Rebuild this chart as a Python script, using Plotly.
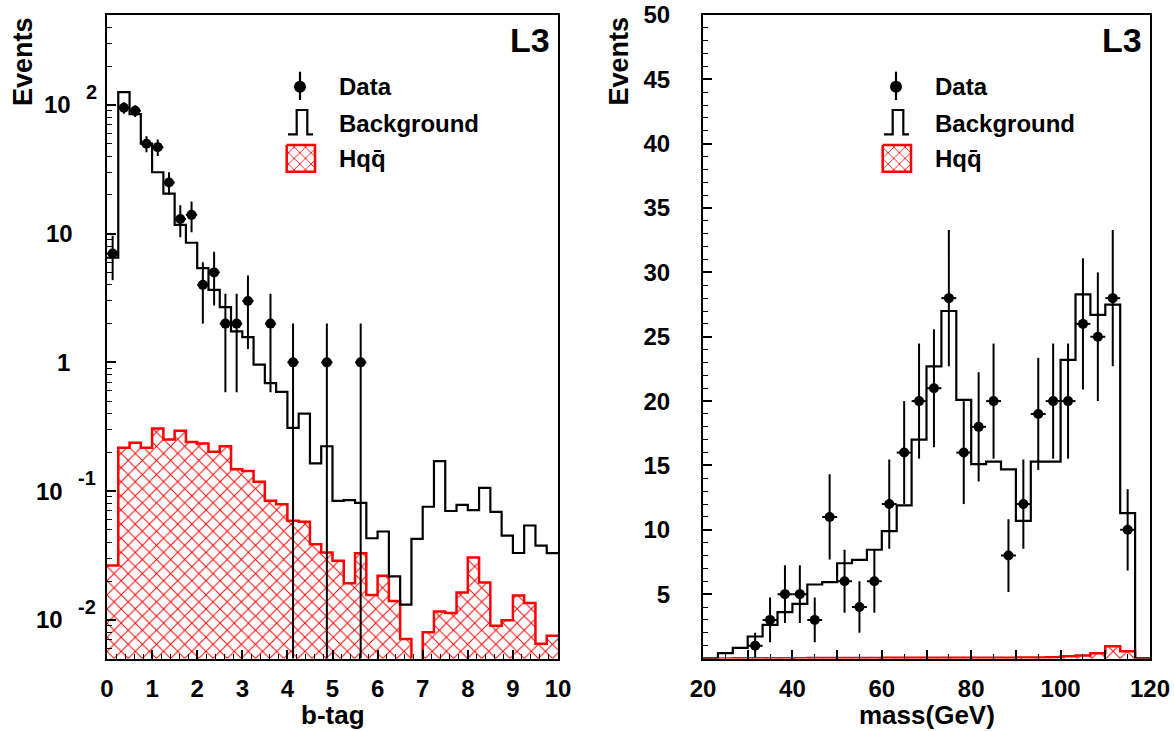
import numpy as np
import plotly.graph_objects as go

FONT = "Liberation Sans, Arial, Helvetica, sans-serif"
W, H = 1174, 731

# ---------------- b-tag distribution: 40 bins on [0, 10] ----------------
btag_range = (0.0, 10.0)
btag_data = [7, 95, 90, 50, 47, 25, 13, 14, 4, 5,
             2, 2, 3, 0, 2, 0, 1, 0, 0, 1,
             0, 0, 1, 0, 0, 0, 0, 0, 0, 0,
             0, 0, 0, 0, 0, 0, 0, 0, 0, 0]
btag_background = [6.5, 126, 85, 50, 30, 20.5, 11.7, 8.5, 5.4, 3.66,
                   2.69, 1.74, 1.57, 0.96, 0.69, 0.59, 0.31, 0.40, 0.164, 0.223,
                   0.084, 0.085, 0.081, 0.043, 0.0485, 0.0217, 0.0131, 0.0425, 0.0755, 0.171,
                   0.070, 0.078, 0.071, 0.106, 0.069, 0.045, 0.033, 0.054, 0.0377, 0.0329]
btag_hqq = [0.0264, 0.217, 0.237, 0.217, 0.306, 0.251, 0.294, 0.241, 0.234, 0.202,
            0.223, 0.148, 0.143, 0.118, 0.084, 0.0789, 0.0589, 0.0578, 0.0386, 0.0333,
            0.0288, 0.0192, 0.0329, 0.0156, 0.022, 0.0140, 0.00708, 0.0, 0.00798, 0.0116,
            0.0113, 0.0163, 0.0304, 0.0195, 0.00897, 0.0099, 0.0154, 0.0135, 0.00652, 0.0075]

# ---------------- mass distribution: 30 bins on [20, 120] GeV ----------------
mass_range = (20.0, 120.0)
mass_data = [0, 0, 0, 1, 3, 5, 5, 3, 11, 6,
             4, 6, 12, 16, 20, 21, 28, 16, 18, 20,
             8, 12, 19, 20, 20, 26, 25, 28, 10, 0]
mass_background = [0, 0.41, 0.83, 1.71, 2.62, 3.6, 4.25, 5.75, 5.93, 7.4,
                   7.67, 8.45, 9.9, 11.9, 17.0, 22.7, 27.0, 20.1, 15.1, 15.3,
                   14.7, 10.7, 15.3, 15.3, 23.2, 28.3, 26.7, 27.5, 11.3, 0]
mass_hqq = [0.0, 0.0, 0.01, 0.01, 0.02, 0.02, 0.02, 0.03, 0.03, 0.03,
            0.04, 0.04, 0.05, 0.05, 0.06, 0.06, 0.05, 0.05, 0.05, 0.05,
            0.06, 0.07, 0.08, 0.10, 0.18, 0.23, 0.41, 0.96, 0.57, 0.0]

# axis labelling
btag_xticks = list(range(0, 11))
log_tick_values = [0.01, 0.1, 1, 10, 100]
log_tick_base = ["10", "10", "1", "10", "10"]
log_tick_exp = ["-2", "-1", "", "", "2"]
mass_xtick_values = [20, 30, 40, 50, 60, 70, 80, 90, 100, 110, 120]
mass_xtick_text = ["20", "", "40", "", "60", "", "80", "", "100", "", "120"]
mass_ytick_values = [5, 10, 15, 20, 25, 30, 35, 40, 45, 50]

legend_labels = ["Data", "Background", "Hq\u0071\u0304"]

# plot frame positions in pixels
LEFT_X = (107, 558)
RIGHT_X = (703, 1150)
FRAME_Y = (15, 658.5)


def edges_of(rng, n):
    return np.linspace(rng[0], rng[1], n + 1)


def step_xy(edges, vals, floor=None):
    ys = [v if (floor is None or v > 0) else floor for v in vals]
    return list(edges), ys + [ys[-1]]


def px(x):
    return x / W


def py(y):
    return 1 - y / H


fig = go.Figure()

BLACK = "black"
RED = "#ff0000"


def add_panel(xa, ya, rng, data, bkg, hqq, floor):
    n = len(data)
    edges = edges_of(rng, n)
    centers = 0.5 * (edges[:-1] + edges[1:])
    width = edges[1] - edges[0]

    # hatched signal histogram
    fig.add_trace(go.Bar(
        x=centers, y=hqq, width=width, xaxis=xa, yaxis=ya,
        marker=dict(color="rgba(0,0,0,0)", line=dict(width=0),
                    pattern=dict(shape="x", fgcolor=RED, bgcolor="rgba(0,0,0,0)",
                                 size=10, solidity=0.18, fillmode="replace")),
        showlegend=False, hoverinfo="skip"))
    sx, sy = step_xy(edges, hqq, floor)
    fig.add_trace(go.Scatter(x=sx, y=sy, mode="lines", line=dict(color=RED, width=2.5, shape="hv"),
                             xaxis=xa, yaxis=ya, showlegend=False, hoverinfo="skip"))

    # background histogram outline
    bx, by = step_xy(edges, bkg, floor)
    fig.add_trace(go.Scatter(x=bx, y=by, mode="lines", line=dict(color=BLACK, width=2.2, shape="hv"),
                             xaxis=xa, yaxis=ya, showlegend=False, hoverinfo="skip"))

    # data points with statistical errors
    d = np.array(data, dtype=float)
    keep = d > 0
    fig.add_trace(go.Scatter(
        x=centers[keep], y=d[keep], mode="markers", xaxis=xa, yaxis=ya,
        marker=dict(color=BLACK, size=10, symbol="circle"),
        error_y=dict(type="data", array=np.sqrt(d[keep]), color=BLACK, thickness=2, width=0),
        error_x=dict(type="data", array=np.full(keep.sum(), width / 2), color=BLACK, thickness=2, width=0),
        showlegend=False, hoverinfo="skip"))


add_panel("x", "y", btag_range, btag_data, btag_background, btag_hqq, 1e-4)
add_panel("x2", "y2", mass_range, mass_data, mass_background, mass_hqq, None)


# legend glyphs drawn on a full-page overlay axis measured in pixels
def add_legend(x0):
    mx = x0 + 193
    fig.add_trace(go.Scatter(x=[mx, mx], y=[71.7, 100], mode="lines", line=dict(color=BLACK, width=2.2),
                             xaxis="x3", yaxis="y3", showlegend=False, hoverinfo="skip"))
    fig.add_trace(go.Scatter(x=[mx], y=[86.7], mode="markers", marker=dict(color=BLACK, size=12),
                             xaxis="x3", yaxis="y3", showlegend=False, hoverinfo="skip"))
    pxs = [x0 + 181, x0 + 189.7, x0 + 189.7, x0 + 200.3, x0 + 200.3, x0 + 206]
    pys = [134.3, 134.3, 110, 110, 134.3, 134.3]
    fig.add_trace(go.Scatter(x=pxs, y=pys, mode="lines", line=dict(color=BLACK, width=2.2),
                             xaxis="x3", yaxis="y3", showlegend=False, hoverinfo="skip"))
    bx0, bx1, by0, by1 = x0 + 179.7, x0 + 208, 145, 171.7
    fig.add_trace(go.Scatter(x=[bx0, bx1, bx1, bx0, bx0], y=[by0, by0, by1, by1, by0], mode="lines",
                             fill="toself", fillcolor="rgba(0,0,0,0)",
                             fillpattern=dict(shape="x", fgcolor=RED, bgcolor="white", size=8,
                                              solidity=0.2, fillmode="replace"),
                             line=dict(color=RED, width=2.5),
                             xaxis="x3", yaxis="y3", showlegend=False, hoverinfo="skip"))
    for label, ty in zip(legend_labels, [86.7, 123, 158.5]):
        fig.add_annotation(x=px(x0 + 230), y=py(ty), xref="paper", yref="paper", text="<b>%s</b>" % label,
                           xanchor="left", yanchor="middle", showarrow=False,
                           font=dict(family=FONT, size=24, color=BLACK))


add_legend(LEFT_X[0])
add_legend(RIGHT_X[0])

axis_common = dict(showline=True, mirror=True, linecolor=BLACK, linewidth=2, showgrid=False,
                   zeroline=False, ticks="inside", tickcolor=BLACK, tickwidth=1.5, ticklen=9,
                   automargin=False,
                   tickfont=dict(family=FONT, size=24, color=BLACK, weight="bold"))

ydom = [py(FRAME_Y[1]), py(FRAME_Y[0])]

fig.update_layout(
    width=W, height=H, margin=dict(l=0, r=0, t=0, b=0, pad=0, autoexpand=False),
    paper_bgcolor="white", plot_bgcolor="rgba(0,0,0,0)",
    showlegend=False, barmode="overlay", bargap=0,
    xaxis=dict(domain=[px(LEFT_X[0]), px(LEFT_X[1])], range=list(btag_range), anchor="y",
               tickvals=btag_xticks, ticklabelstandoff=8,
               minor=dict(ticks="inside", dtick=0.2, ticklen=5, tickcolor=BLACK, tickwidth=1),
               **axis_common),
    yaxis=dict(domain=ydom, type="log", range=[np.log10(0.005), np.log10(500)], anchor="x",
               dtick=1, showticklabels=False,
               minor=dict(ticks="inside", dtick="D1", ticklen=5, tickcolor=BLACK, tickwidth=1),
               **axis_common),
    xaxis2=dict(domain=[px(RIGHT_X[0]), px(RIGHT_X[1])], range=list(mass_range), anchor="y2",
                tickvals=mass_xtick_values, ticktext=mass_xtick_text, ticklabelstandoff=8,
                minor=dict(ticks="inside", dtick=5, ticklen=5, tickcolor=BLACK, tickwidth=1),
                **axis_common),
    yaxis2=dict(domain=ydom, range=[0, 50], anchor="x2",
                tickvals=mass_ytick_values, ticklabelstandoff=26,
                minor=dict(ticks="inside", dtick=1, ticklen=5, tickcolor=BLACK, tickwidth=1),
                **axis_common),
    xaxis3=dict(domain=[0, 1], range=[0, W], visible=False, anchor="y3", fixedrange=True, automargin=False),
    yaxis3=dict(domain=[0, 1], range=[H, 0], visible=False, anchor="x3", fixedrange=True, automargin=False),
)

# log-axis tick labels with raised exponents
for v, base, exp in zip(log_tick_values, log_tick_base, log_tick_exp):
    lv = np.log10(v)
    right_edge = 65 if exp.startswith("-") else (73.3 if exp else (72 if base == "1" else 75))
    fig.add_annotation(x=px(right_edge), y=lv, xref="paper", yref="y", text="<b>%s</b>" % base,
                       xanchor="right", yanchor="middle", showarrow=False,
                       font=dict(family=FONT, size=24, color=BLACK))
    if exp:
        fig.add_annotation(x=px(right_edge + 11), y=lv, xref="paper", yref="y", text="<b>%s</b>" % exp,
                           xanchor="left", yanchor="middle", yshift=13, showarrow=False,
                           font=dict(family=FONT, size=20, color=BLACK))

# axis titles and experiment tags
for x, y, text, angle, size in [(333, 715, "b-tag", 0, 26), (926.5, 715, "mass(GeV)", 0, 26),
                                (22.5, 61.5, "Events", -90, 27), (618, 61.5, "Events", -90, 27)]:
    fig.add_annotation(x=px(x), y=py(y), xref="paper", yref="paper", text="<b>%s</b>" % text,
                       textangle=angle, xanchor="center", yanchor="middle", showarrow=False,
                       font=dict(family=FONT, size=size, color=BLACK))

for xr in (LEFT_X[1], RIGHT_X[1]):
    fig.add_annotation(x=px(xr - 6), y=py(40), xref="paper", yref="paper", text="<b>L3</b>",
                       xanchor="right", yanchor="middle", showarrow=False,
                       font=dict(family=FONT, size=34, color=BLACK))

fig.write_html("out.html")
